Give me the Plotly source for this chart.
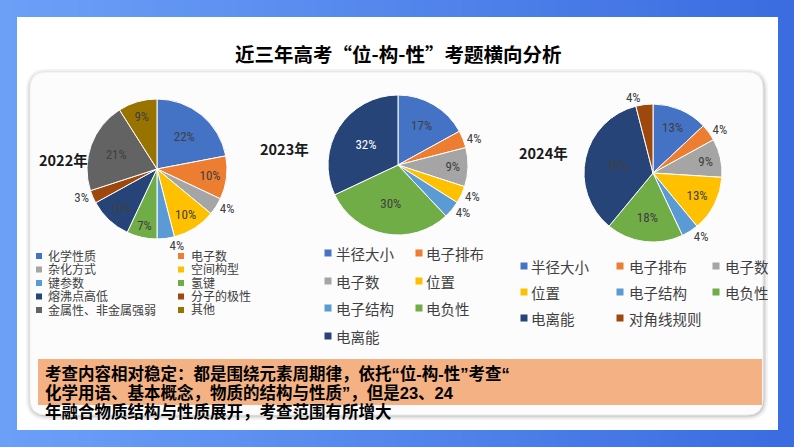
import plotly.graph_objects as go

W, H = 794, 447

# ---------------- data ----------------
labels_2022 = ["化学性质", "电子数", "杂化方式", "空间构型", "键参数", "氢键",
               "熔沸点高低", "分子的极性", "金属性、非金属强弱", "其他"]
values_2022 = [22, 10, 4, 10, 4, 7, 10, 3, 21, 9]

labels_2023 = ["半径大小", "电子排布", "电子数", "位置", "电子结构", "电负性", "电离能"]
values_2023 = [17, 4, 9, 4, 4, 30, 32]

labels_2024 = ["半径大小", "电子排布", "电子数", "位置", "电子结构", "电负性", "电离能", "对角线规则"]
values_2024 = [13, 4, 9, 13, 4, 18, 35, 4]

year_labels = ["2022年", "2023年", "2024年"]
title_text = "近三年高考“位-构-性”考题横向分析"
note_lines = ["考查内容相对稳定：都是围绕元素周期律，依托“位-构-性”考查“",
              "化学用语、基本概念，物质的结构与性质”，但是23、24",
              "年融合物质结构与性质展开，考查范围有所增大"]

# ---------------- styles ----------------
BLUE, ORANGE, GRAY, YELLOW = "#4472C4", "#ED7D31", "#A5A5A5", "#FFC000"
LBLUE, GREEN, NAVY, BROWN = "#5B9BD5", "#70AD47", "#264478", "#9E480E"
DGRAY, OLIVE = "#636363", "#997300"
colors_2022 = [BLUE, ORANGE, GRAY, YELLOW, LBLUE, GREEN, NAVY, BROWN, DGRAY, OLIVE]
colors_2023 = [BLUE, ORANGE, GRAY, YELLOW, LBLUE, GREEN, NAVY]
colors_2024 = [BLUE, ORANGE, GRAY, YELLOW, LBLUE, GREEN, NAVY, BROWN]

TXT = "#404040"
CJK = "Noto Sans CJK SC, sans-serif"
LEGF = "Liberation Sans, Noto Sans CJK SC, sans-serif"
NUMF = "Liberation Sans Narrow, Arial Narrow, Roboto Condensed, Liberation Sans, sans-serif"


def X(px):
    return px / W


def Y(py):
    return 1 - py / H


fig = go.Figure()


def add_pie(labels, values, colors, cx, cy, r, positions, tcolors):
    fig.add_trace(go.Pie(
        labels=labels, values=values, sort=False, direction="clockwise", rotation=0,
        marker=dict(colors=colors, line=dict(color="white", width=1)),
        texttemplate="%{percent:.0%}", textposition=positions,
        textfont=dict(color=tcolors, size=13, family=NUMF),
        insidetextorientation="horizontal",
        domain=dict(x=[X(cx - r), X(cx + r)], y=[Y(cy + r), Y(cy - r)]),
        showlegend=False, hoverinfo="label+percent",
    ))


add_pie(labels_2022, values_2022, colors_2022, 157, 169, 70,
        ["inside", "inside", "outside", "inside", "outside", "inside", "inside", "outside", "inside", "inside"],
        [TXT] * 10)
add_pie(labels_2023, values_2023, colors_2023, 398, 165, 70,
        ["inside", "outside", "inside", "outside", "outside", "inside", "inside"],
        [TXT] * 6 + ["white"])
add_pie(labels_2024, values_2024, colors_2024, 653, 173, 69,
        ["inside", "outside", "inside", "inside", "outside", "inside", "inside", "outside"],
        [TXT] * 8)

shapes = []
annotations = []

# background gradient (left light -> right dark)
c0 = (0x6C, 0xA0, 0xF7)
c1 = (0x3B, 0x6C, 0xE0)
N = 60
for i in range(N):
    t = i / (N - 1)
    col = "rgb(%d,%d,%d)" % tuple(round(a + (b - a) * t) for a, b in zip(c0, c1))
    shapes.append(dict(type="rect", xref="paper", yref="paper", layer="below",
                       x0=X(W * i / N), x1=X(W * (i + 1) / N + 1), y0=0, y1=1,
                       fillcolor=col, line=dict(width=0)))

# white card
shapes.append(dict(type="rect", xref="paper", yref="paper", layer="below",
                   x0=X(17), x1=X(778), y0=Y(430), y1=Y(17),
                   fillcolor="white", line=dict(width=0)))


def rrect_path(x0, y0, x1, y1, rad):
    return "M %f,%f L %f,%f Q %f,%f %f,%f L %f,%f Q %f,%f %f,%f L %f,%f Q %f,%f %f,%f L %f,%f Q %f,%f %f,%f Z" % (
        X(x0 + rad), Y(y0), X(x1 - rad), Y(y0),
        X(x1), Y(y0), X(x1), Y(y0 + rad),
        X(x1), Y(y1 - rad),
        X(x1), Y(y1), X(x1 - rad), Y(y1),
        X(x0 + rad), Y(y1),
        X(x0), Y(y1), X(x0), Y(y1 - rad),
        X(x0), Y(y0 + rad),
        X(x0), Y(y0), X(x0 + rad), Y(y0),
    )


# inner card shadow + card
for k, op in [(5, 0.05), (3, 0.07), (1.5, 0.09)]:
    shapes.append(dict(type="path", xref="paper", yref="paper", layer="below",
                       path=rrect_path(30 - k + 1, 72 - k + 2, 763 + k, 415 + k, 16 + k),
                       fillcolor="rgba(0,0,0,%f)" % op, line=dict(width=0)))
shapes.append(dict(type="path", xref="paper", yref="paper", layer="below",
                   path=rrect_path(30, 72, 763, 415, 16),
                   fillcolor="#fcfcfd", line=dict(color="#eeeeee", width=1)))

# orange note box
shapes.append(dict(type="rect", xref="paper", yref="paper", layer="below",
                   x0=X(38), x1=X(762), y0=Y(405), y1=Y(359),
                   fillcolor="#F4B183", line=dict(width=0)))

# title
annotations.append(dict(text="<b>%s</b>" % title_text, x=X(398), y=Y(53), xref="paper", yref="paper",
                        xanchor="center", yanchor="middle", showarrow=False,
                        font=dict(family=CJK, size=19.5, color="black")))

# year labels
for txt, (px, py) in zip(year_labels, [(37, 159), (258, 148), (517, 152)]):
    annotations.append(dict(text="<b>%s</b>" % txt, x=X(px), y=Y(py), xref="paper", yref="paper",
                            xanchor="left", yanchor="middle", showarrow=False,
                            font=dict(family=CJK, size=14.5, color="#1a1a1a")))


def add_legend(labels, colors, col_marker, col_text, rows, ncol, fsize, sq, family):
    for i, (lab, col) in enumerate(zip(labels, colors)):
        r, c = divmod(i, ncol)
        mx, my = col_marker[c], rows[r]
        shapes.append(dict(type="rect", xref="paper", yref="paper", layer="above",
                           x0=X(mx - sq / 2), x1=X(mx + sq / 2), y0=Y(my + sq / 2), y1=Y(my - sq / 2),
                           fillcolor=col, line=dict(width=0)))
        annotations.append(dict(text=lab, x=X(col_text[c] - 2), y=Y(my), xref="paper", yref="paper",
                                xanchor="left", yanchor="middle", showarrow=False, borderpad=0,
                                font=dict(family=family, size=fsize, color=TXT)))


add_legend(labels_2022, colors_2022, [39, 181], [49, 192], [256, 269.5, 283, 296.5, 310], 2, 12, 6, LEGF)
add_legend(labels_2023, colors_2023, [328, 419], [337, 427], [253, 281, 308, 336], 2, 14.5, 7, CJK)
add_legend(labels_2024, colors_2024, [524, 620, 716], [532, 630, 726], [266, 292, 318], 3, 14.5, 7, CJK)

# note text
for txt, py in zip(note_lines, [373, 392, 411]):
    annotations.append(dict(text="<b>%s</b>" % txt, x=X(44), y=Y(py), xref="paper", yref="paper",
                            xanchor="left", yanchor="middle", showarrow=False, borderpad=0,
                            font=dict(family=LEGF, size=16.5, color="black")))

fig.update_layout(
    width=W, height=H, margin=dict(l=0, r=0, t=0, b=0),
    paper_bgcolor="#5a8ff0", plot_bgcolor="rgba(0,0,0,0)",
    shapes=shapes, annotations=annotations, showlegend=False,
)

fig.write_html("out.html")
